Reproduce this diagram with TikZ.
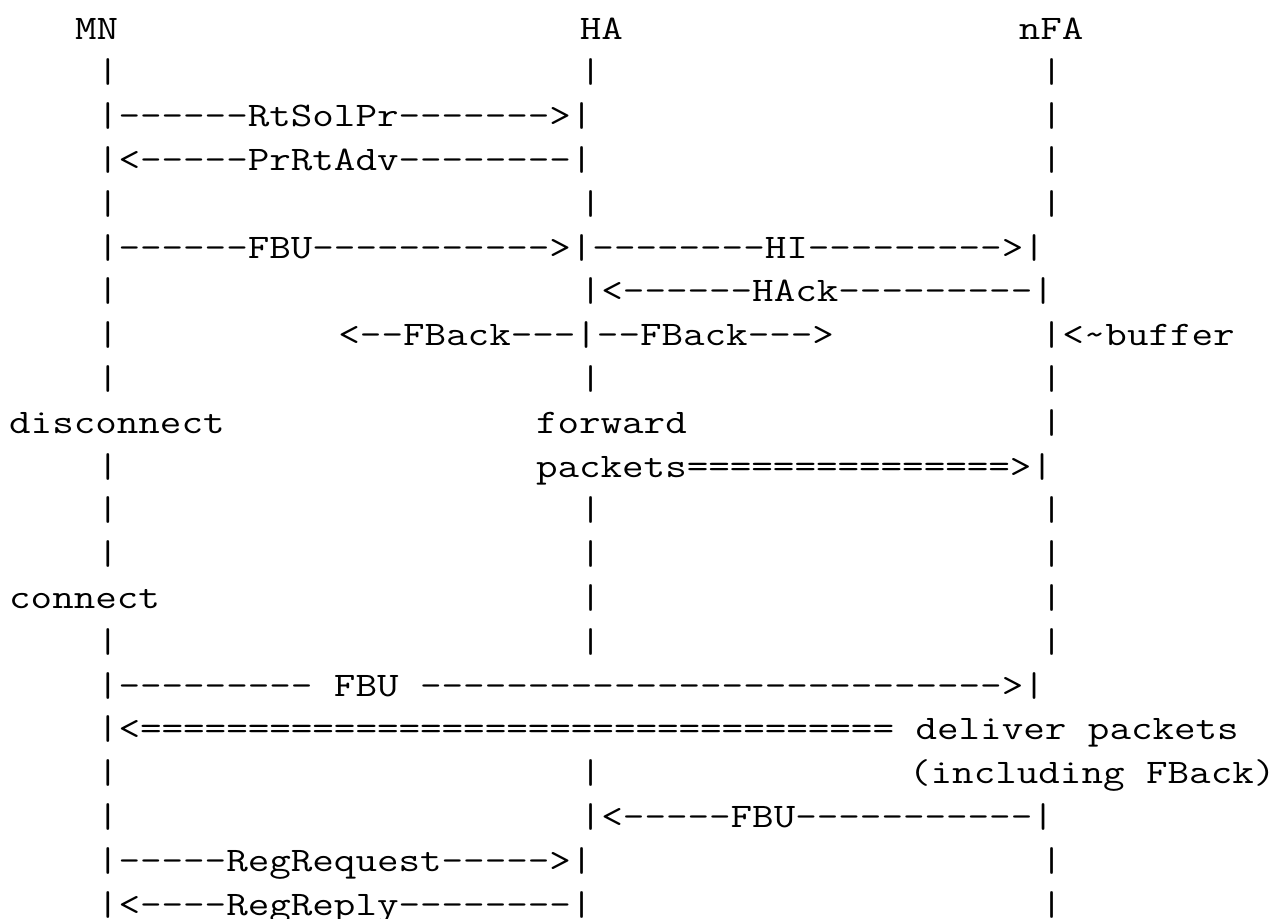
\documentclass[tikz,border=0pt]{standalone}
\usepackage{graphicx}
\ExplSyntaxOn
\NewDocumentCommand\mydash{m}{\prg_replicate:nn{#1}{-{}}}
\NewDocumentCommand\myeq{m}{\prg_replicate:nn{#1}{={}}}
\ExplSyntaxOff
\tikzset{
  txt/.style={anchor=base west, inner sep=0pt, outer sep=0pt, text=black,
    font=\ttfamily\fontsize{17.2pt}{20pt}\selectfont},
}
% cell left edge of column c, baseline of row r (pixel units)
\newcommand\seg[4]{\node[txt] (#1) at ({9.2+21.95*#3},{39+43.8*#2}) {\scalebox{1.216}[1]{#4}};}
\newcommand\bars[1]{\seg{b#1a}{#1}{4}{|}\seg{b#1b}{#1}{26}{|}\seg{b#1c}{#1}{47}{|}}
\begin{document}
\begin{tikzpicture}[x=0.5pt,y=-0.5pt]
\fill[white] (0,0) rectangle (1279,918);
\useasboundingbox (0,0) rectangle (1279,918);
% row 0
\seg{mn}{0}{3}{MN}
\seg{ha}{0}{26}{HA}
\seg{nfa}{0}{46}{nFA}
% row 1
\bars{1}
% row 2
\seg{rtsol}{2}{4}{|\mydash{6}RtSolPr\mydash{7}>|}
\seg{b2c}{2}{47}{|}
% row 3
\seg{prrt}{3}{4}{|<\mydash{5}PrRtAdv\mydash{8}|}
\seg{b3c}{3}{47}{|}
% row 4
\bars{4}
% row 5
\seg{fbuhi}{5}{4}{|\mydash{6}FBU\mydash{11}>|\mydash{8}HI\mydash{9}>|}
% row 6
\seg{b6a}{6}{4}{|}
\seg{hack}{6}{26}{|<\mydash{6}HAck\mydash{9}|}
% row 7
\seg{b7a}{7}{4}{|}
\seg{fback}{7}{15}{<\mydash{2}FBack\mydash{3}|\mydash{2}FBack\mydash{3}>}
\seg{buffer}{7}{47}{|<\textasciitilde buffer}
% row 8
\bars{8}
% row 9
\seg{disc}{9}{0}{disconnect}
\seg{fwd}{9}{24}{forward}
\seg{b9c}{9}{47}{|}
% row 10
\seg{b10a}{10}{4}{|}
\seg{pkts}{10}{24}{packets\myeq{15}>|}
% rows 11, 12
\bars{11}
\bars{12}
% row 13
\seg{conn}{13}{0}{connect}
\seg{b13b}{13}{26}{|}
\seg{b13c}{13}{47}{|}
% row 14
\bars{14}
% row 15
\seg{fbub}{15}{4}{|\mydash{9} FBU \mydash{27}>|}
% row 16
\seg{deliv}{16}{4}{|<\myeq{35} deliver packets}
% row 17
\seg{b17a}{17}{4}{|}
\seg{b17b}{17}{26}{|}
\seg{incl}{17}{41}{(including FBack)}
% row 18
\seg{b18a}{18}{4}{|}
\seg{fbuc}{18}{26}{|<\mydash{5}FBU\mydash{11}|}
% row 19
\seg{regreq}{19}{4}{|\mydash{5}RegRequest\mydash{5}>|}
\seg{b19c}{19}{47}{|}
% row 20
\seg{regrep}{20}{4}{|<\mydash{4}RegReply\mydash{8}|}
\seg{b20c}{20}{47}{|}
\end{tikzpicture}
\end{document}
